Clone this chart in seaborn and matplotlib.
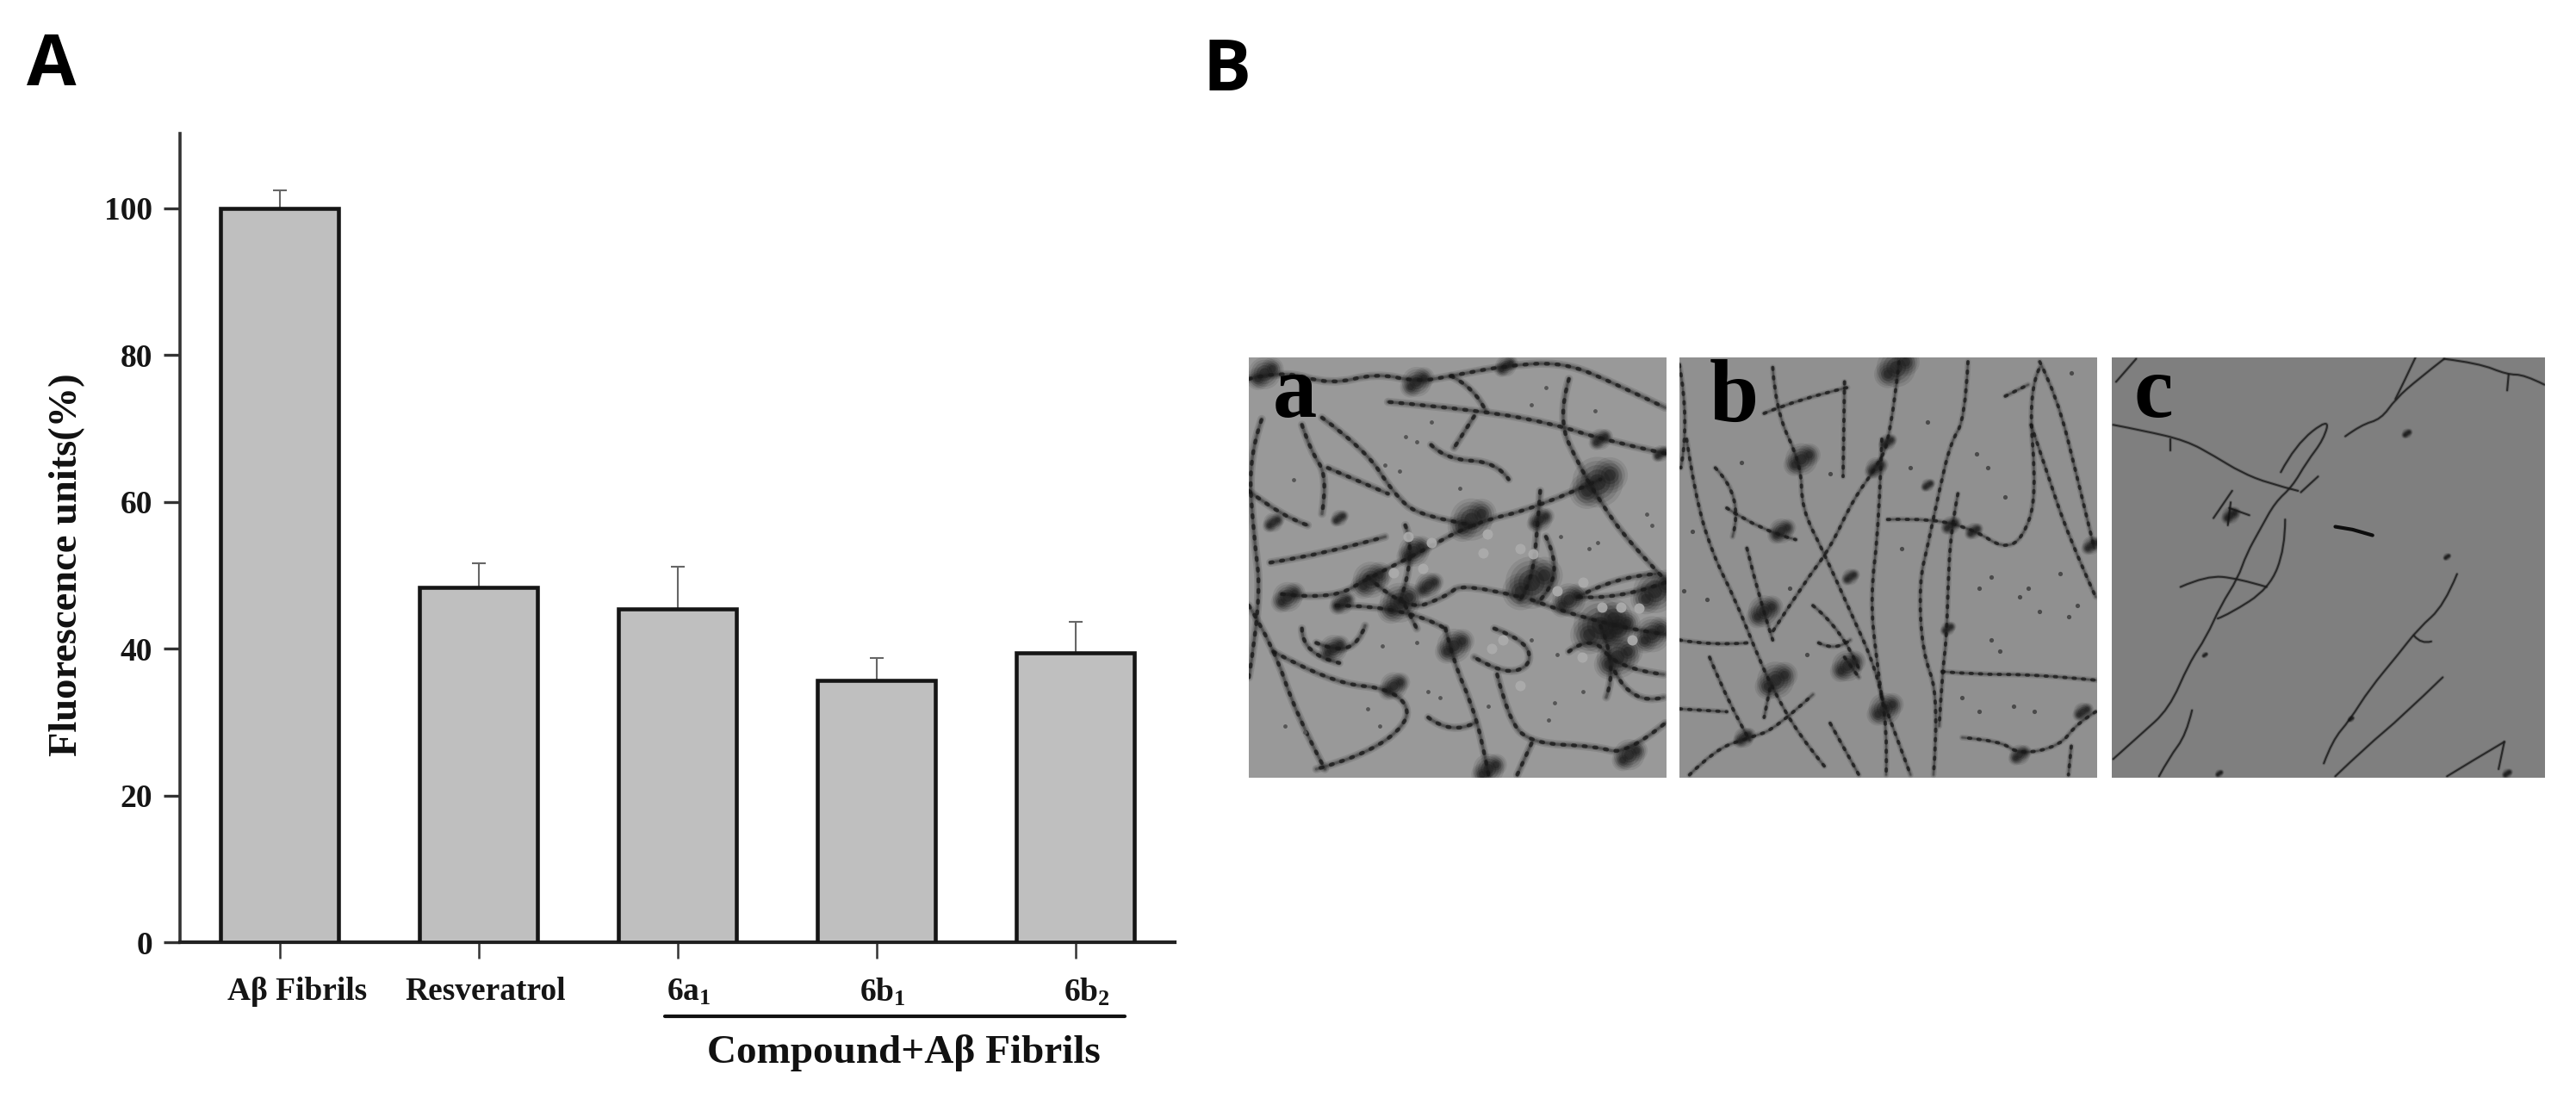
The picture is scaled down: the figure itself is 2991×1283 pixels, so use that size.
import matplotlib
matplotlib.use("Agg")
import matplotlib.pyplot as plt
from matplotlib.path import Path
from matplotlib.patches import PathPatch
from matplotlib.transforms import ScaledTranslation
import pandas as pd
import seaborn as sns

W, H = 2991, 1283
categories = ["Aβ Fibrils", "Resveratrol", "6a1", "6b1", "6b2"]
tick_labels = ["Aβ Fibrils", "Resveratrol", r"$\mathbf{6a_1}$", r"$\mathbf{6b_1}$", r"$\mathbf{6b_2}$"]
values = [100.0, 48.3, 45.4, 35.7, 39.4]
err_tops = [102.5, 51.6, 51.2, 38.7, 43.6]
y_ticks = [0, 20, 40, 60, 80, 100]
label_shift_px = [21, 8, 13, 7, 13]

# Traced outlines of the three micrographs, in zoomed-crop pixel coordinates
fibrils_a = [
    [(15,90),(130,60),(300,110),(460,70),(600,100),(720,80),(900,45),(1110,30),(1300,110),(1465,190)],
    [(270,225),(420,335),(520,490),(610,570),(800,600)],
    [(1130,90),(1090,230),(1170,400),(1240,520),(1340,660),(1465,790)],
    [(800,220),(730,330)],
    [(1465,350),(1240,300),(1090,250),(830,200),(500,170)],
    [(15,880),(100,1020),(180,1260),(280,1450)],
    [(130,840),(300,860),(440,780),(600,700),(800,590),(1020,540),(1240,440)],
    [(90,730),(280,700),(490,640)],
    [(15,480),(130,570),(220,600)],
    [(700,960),(730,1080),(790,1220),(830,1360),(850,1470)],
    [(1000,860),(1240,950),(1465,980)],
    [(320,880),(560,880),(700,960)],
    [(100,1040),(300,1150),(520,1170),(590,1270),(430,1400),(250,1450)],
    [(880,1120),(920,1280),(1000,1360),(1220,1370),(1330,1400),(1465,1290)],
    [(1000,1360),(950,1470)],
    [(200,250),(230,340),(290,430),(270,560)],
    [(290,400),(500,490)],
    [(1030,480),(1020,620),(1000,800),(960,860)],
    [(650,320),(700,370),(880,380),(920,440)],
    [(1240,950),(1300,1090),(1260,1200)],
    [(1465,800),(1300,860),(1160,850)],
    [(560,880),(600,960)],
    [(15,1130),(60,860),(30,620),(15,360),(60,230)],
    [(430,780),(560,900),(700,850),(760,800),(960,850)],
    [(560,600),(600,700),(540,870)],
    [(1130,1040),(1210,980),(1300,1100),(1460,1120)],
    [(250,1010),(320,1040),(400,1010),(420,950)],
    [(870,960),(980,1000),(1000,1090),(900,1120),(800,1060)],
    [(1050,640),(1120,780),(1020,870)],
    [(1160,850),(1290,780),(1430,770)],
    [(200,960),(200,1050),(330,1080)],
    [(720,80),(800,120),(840,200)],
    [(1290,1110),(1350,1230),(1460,1200)],
    [(640,1270),(720,1330),(800,1290)],
]
blobs_a = [(790,580,520),(1230,450,750),(1240,950,850),(1000,800,800),(590,690,280),(440,790,380),
           (150,850,260),(730,1020,340),(70,70,300),(600,100,260),(1300,1060,520),(1430,830,560),
           (520,1160,220),(1340,1400,280),(850,1450,280),(1030,580,170),(910,45,130),(310,1030,220),
           (540,870,460),(1420,980,380),(100,590,110),(330,575,80),(1450,350,80),(1240,300,130),
           (1130,860,320),(1300,960,420),(640,810,200),(340,870,160)]
light_a = [(845,630),(620,750),(520,765),(1245,885),(1310,885),(1005,700),(830,695),(1180,800),(1375,890),(1175,1060),
           (650,660),(570,640),(960,680),(1090,830),(1350,1000),(900,1000),(860,1030),(960,1160)]
specks_a = [(560,290),(650,240),(490,390),(540,410),(600,310),(750,470),(170,440),(1000,180),(1050,120),(1220,200),
            (1100,640),(1200,680),(1230,660),(1000,1000),(1090,1050),(480,1020),(600,1010),(1080,1220),(1180,1180),
            (430,1240),(470,1300),(1060,1280),(680,1200),(640,1180),(850,1230),(140,1300),(210,1320),(1400,560),(1420,600)]

fibrils_b = [
    [(40,300),(70,500),(130,700),(210,860),(290,1060),(340,1170),(430,1330),(520,1440)],
    [(340,50),(350,200),(440,390),(440,540),(520,700),(610,900),(700,1100),(740,1300),(735,1470)],
    [(780,30),(750,300),(700,400),(620,510),(540,680),(450,800),(340,970)],
    [(720,300),(710,600),(680,850),(700,1060),(720,1200)],
    [(1020,30),(1010,230),(960,310),(920,480),(880,670),(850,800),(860,1040),(920,1200),(900,1470)],
    [(985,490),(960,620),(950,830),(945,1000),(930,1120),(920,1300)],
    [(740,580),(900,575),(1050,620),(1140,680),(1210,650),(1260,500),(1230,130),(1270,50)],
    [(1270,30),(1330,150),(1400,430),(1460,680)],
    [(1240,250),(1290,400),(1370,640),(1465,850)],
    [(930,1110),(1040,1120),(1260,1120),(1465,1140)],
    [(50,1470),(140,1380),(260,1340),(350,1310),(480,1190)],
    [(1465,1250),(1400,1290),(1340,1370),(1200,1400),(1130,1350),(1000,1340)],
    [(590,100),(585,430)],
    [(310,210),(430,160),(600,120)],
    [(540,1290),(640,1470)],
    [(15,1000),(130,1020),(250,1010)],
    [(120,1060),(190,1230),(260,1350)],
    [(590,1060),(640,1130)],
    [(1150,150),(1230,110)],
    [(15,1240),(180,1250)],
    [(720,1200),(820,1470)],
    [(330,1170),(310,1270)],
    [(1380,1370),(1370,1470)],
    [(250,680),(300,880),(340,1000)],
    [(480,880),(580,960),(640,1100)],
    [(180,540),(300,620),(420,650)],
    [(500,1010),(560,1040),(610,1000)],
    [(15,40),(50,240),(20,400)],
    [(140,400),(240,500),(200,640)],
]
blobs_b = [(770,50,450),(440,370,300),(700,400,130),(310,900,300),(350,1140,400),(600,1090,280),(730,1240,300),
           (1450,670,100),(1200,1400,120),(950,960,60),(370,620,180),(610,780,80),(1040,620,80),(240,1340,120),
           (1420,1250,100),(880,460,50),(740,310,80),(960,600,100)]
specks_b = [(1090,400),(1150,500),(1100,780),(1200,850),(1270,900),(1340,770),(1130,1040),(1100,1000),(1230,820),
            (880,240),(820,400),(540,420),(230,380),(60,620),(30,830),(110,860),(790,680),(1060,820),(1400,880),
            (1370,920),(1180,1230),(1250,1250),(1000,1200),(1060,1250),(460,1050),(400,820),(1050,350),(1380,70)]

fibrils_c = [
    [(25,250),(130,270),(280,305),(380,360),(470,415),(570,455),(670,480)],
    [(225,300),(225,340)],
    [(1180,20),(1090,90),(1010,160),(960,230),(890,250),(835,290)],
    [(1080,15),(1040,100),(1010,160)],
    [(1180,20),(1300,35),(1400,75),(1460,75),(1530,110)],
    [(1405,75),(1400,130)],
    [(610,415),(660,320),(780,225),(760,300),(700,380),(650,465),(590,520),(540,610),(490,700),(460,785),
     (400,880),(350,990),(290,1080),(220,1240),(120,1330),(25,1415)],
    [(740,430),(680,485)],
    [(625,580),(625,680),(570,820),(430,910),(390,925)],
    [(260,815),(350,775),(460,785),(560,815)],
    [(1225,770),(1180,880),(1090,960),(1020,1050),(920,1170),(850,1280),(790,1350),(760,1430)],
    [(1175,1130),(1030,1270),(910,1370),(800,1475)],
    [(300,1245),(280,1330),(220,1410),(185,1475)],
    [(1390,1355),(1280,1420),(1190,1475)],
    [(1390,1355),(1370,1450)],
    [(105,20),(35,100)],
    [(1075,985),(1100,1015),(1135,1005)],
    [(375,575),(440,480)],
    [(430,540),(500,565)],
    [(435,520),(425,600)],
]
thick_c = [(800,605),(860,615),(930,635)]
blobs_c = [(435,565,90),(1050,280,30),(1190,710,18),(1400,1465,30),(395,1465,20),(855,1275,14),(345,1052,12)]

sns.set_theme(style="white")
plt.rcParams["font.family"] = ["Liberation Serif", "DejaVu Serif"]
plt.rcParams["font.weight"] = "bold"
plt.rcParams["mathtext.fontset"] = "custom"
plt.rcParams["mathtext.bf"] = "Liberation Serif:bold"
plt.rcParams["mathtext.rm"] = "Liberation Serif:bold"

fig = plt.figure(figsize=(W / 100, H / 100), dpi=100, facecolor="white")


def fx(p):
    return p / W


def fy(p):
    return 1 - p / H


# --- Panel A
ax = fig.add_axes([fx(209), fy(1094), 1155 / W, (1094 - 155) / H])
df = pd.DataFrame({"cat": categories, "val": values})
sns.barplot(data=df, x="cat", y="val", ax=ax, color="#bfbfbf", saturation=1, width=0.595,
            edgecolor="#151515", linewidth=3.3, errorbar=None, zorder=3)
ax.errorbar(range(len(values)), values, yerr=[[0] * len(values), [t - v for t, v in zip(err_tops, values)]],
            fmt="none", ecolor="#666666", elinewidth=1.5, capsize=6, capthick=1.5, zorder=2)
ax.set_xlim(-0.5, 4.5)
ax.set_ylim(0, 110.2)
ax.set_yticks(y_ticks)
ax.set_xticks(range(len(values)))
ax.set_xticklabels(tick_labels, fontsize=27, fontweight="bold")
ax.tick_params(axis="y", length=14, width=2.4, color="#333333", labelsize=27, pad=9, labelcolor="#151515", left=True)
ax.tick_params(axis="x", length=14, width=1.8, color="#333333", pad=15, labelcolor="#151515", bottom=True)
for tick, dx in zip(ax.get_xticklabels(), label_shift_px):
    tick.set_transform(tick.get_transform() + ScaledTranslation(dx / 100, 0, fig.dpi_scale_trans))
for lbl in ax.get_yticklabels():
    lbl.set_fontweight("bold")
ax.set_xlabel("")
ax.set_ylabel("")
sns.despine(ax=ax)
ax.spines["left"].set_linewidth(2.6)
ax.spines["left"].set_color("#333333")
ax.spines["bottom"].set_linewidth(3.0)
ax.spines["bottom"].set_color("#222222")
ax.patch.set_alpha(0)

fig.text(fx(78), fy(656), "Fluorescence units(%)", rotation=90, fontsize=33.5, fontweight="bold",
         ha="center", va="center", color="#111111")
fig.text(fx(1049), fy(1222), "Compound+Aβ Fibrils", fontsize=34, fontweight="bold",
         ha="center", va="center", color="#111111")
fig.add_artist(plt.Line2D([fx(772), fx(1306)], [fy(1180), fy(1180)], color="#111111", lw=3.0))

for s, x0, base in (("A", 60, 99), ("B", 1424, 105)):
    fig.text(fx(x0), fy(base), s, fontsize=60, fontweight="bold", family="Open Sans",
             ha="center", va="baseline", color="black")


# --- Panel B
def panel(x0, x1, y0, y1, xlim, ylim, color):
    a = fig.add_axes([fx(x0), fy(y1), (x1 - x0) / W, (y1 - y0) / H])
    a.set_xlim(*xlim)
    a.set_ylim(*ylim)
    a.set_facecolor(color)
    a.set_xticks([])
    a.set_yticks([])
    for s in a.spines.values():
        s.set_visible(False)
    return a


def smooth(p):
    """Quadratic spline through the midpoints of a traced outline."""
    verts, codes = [p[0]], [Path.MOVETO]
    for i in range(1, len(p) - 1):
        mid = ((p[i][0] + p[i + 1][0]) / 2, (p[i][1] + p[i + 1][1]) / 2)
        end = p[i + 1] if i == len(p) - 2 else mid
        verts += [p[i], end]
        codes += [Path.CURVE3, Path.CURVE3]
    if len(p) == 2:
        verts.append(p[1])
        codes.append(Path.LINETO)
    return Path(verts, codes)


def draw_paths(a, paths, strokes, color, beads=0.0):
    for p in paths:
        path = smooth(p)
        for lw, alpha in strokes:
            a.add_patch(PathPatch(path, fill=False, edgecolor=color, lw=lw, alpha=alpha,
                                  capstyle="round", joinstyle="round", zorder=2))
        if beads:
            a.add_patch(PathPatch(path, fill=False, edgecolor="#141414", lw=beads, alpha=0.7,
                                  linestyle=(0, (0.6, 2.2)), capstyle="round", zorder=3))


def draw_blobs(a, blobs, color="#1a1a1a"):
    xs, ys, ss = zip(*blobs)
    for k, alpha in ((2.4, 0.10), (1.7, 0.13), (1.1, 0.18), (0.6, 0.30), (0.25, 0.4)):
        a.scatter(xs, ys, s=[v * k for v in ss], color=color, alpha=alpha, linewidths=0, zorder=4)
        for ox, oy in ((35, -20), (-30, 25)):
            a.scatter([x + ox * (s / 500) ** 0.5 for x, s in zip(xs, ss)],
                      [y + oy * (s / 500) ** 0.5 for y, s in zip(ys, ss)],
                      s=[v * k * 0.5 for v in ss], color=color, alpha=alpha, linewidths=0, zorder=4)


pa = panel(1450, 1935, 415, 903, (15, 1470), (1480, 15), "#999999")
draw_paths(pa, fibrils_a, [(7, 0.15), (4.5, 0.22), (2.2, 0.45)], "#2b2b2b", beads=3.2)
draw_blobs(pa, blobs_a)
pa.scatter(*zip(*light_a), s=75, color="#adadad", alpha=0.9, linewidths=0, zorder=5)
pa.scatter(*zip(*specks_a), s=12, color="#555555", linewidths=0, zorder=3)
pa.text(175, 222, "a", fontsize=74, fontweight="bold", ha="center", va="baseline", color="black", zorder=6)

pb = panel(1950, 2435, 415, 903, (15, 1470), (1480, 15), "#909090")
draw_paths(pb, fibrils_b, [(5, 0.14), (3, 0.2), (1.6, 0.45)], "#2c2c2c", beads=2.8)
draw_blobs(pb, blobs_b)
pb.scatter(*zip(*specks_b), s=14, color="#4a4a4a", linewidths=0, zorder=3)
pb.text(205, 238, "b", fontsize=74, fontweight="bold", ha="center", va="baseline", color="black", zorder=6)

pc = panel(2452, 2955, 415, 903, (20, 1532), (1480, 15), "#7f7f7f")
draw_paths(pc, fibrils_c, [(3, 0.18), (1.5, 0.85)], "#1d1d1d")
xs, ys = zip(*thick_c)
pc.plot(xs, ys, color="#0d0d0d", lw=3.0, solid_capstyle="round")
draw_blobs(pc, blobs_c, color="#141414")
pc.text(165, 222, "c", fontsize=74, fontweight="bold", ha="center", va="baseline", color="black", zorder=6)

fig.savefig("out.png", dpi=100, facecolor="white")
